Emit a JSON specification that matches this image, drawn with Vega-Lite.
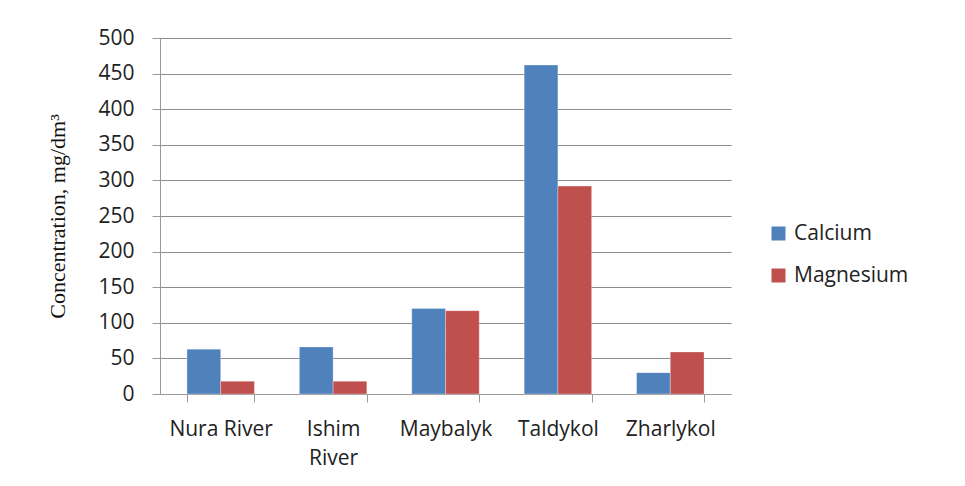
{
  "$schema": "https://vega.github.io/schema/vega-lite/v6.json",
  "width": 571,
  "height": 356,
  "autosize": {"type": "none"},
  "padding": {"left": 160, "top": 38, "right": 234, "bottom": 92},
  "background": "white",
  "data": {
    "values": [
      {"site": "Nura River", "element": "Calcium", "value": 63},
      {"site": "Nura River", "element": "Magnesium", "value": 18},
      {"site": "Ishim River", "element": "Calcium", "value": 66},
      {"site": "Ishim River", "element": "Magnesium", "value": 18},
      {"site": "Maybalyk", "element": "Calcium", "value": 120},
      {"site": "Maybalyk", "element": "Magnesium", "value": 117},
      {"site": "Taldykol", "element": "Calcium", "value": 462},
      {"site": "Taldykol", "element": "Magnesium", "value": 292},
      {"site": "Zharlykol", "element": "Calcium", "value": 30},
      {"site": "Zharlykol", "element": "Magnesium", "value": 59}
    ]
  },
  "mark": {"type": "bar", "stroke": "white", "strokeWidth": 0.5, "strokeOpacity": 0.6},
  "encoding": {
    "x": {
      "field": "site",
      "type": "nominal",
      "sort": ["Nura River", "Ishim River", "Maybalyk", "Taldykol", "Zharlykol"],
      "scale": {"paddingInner": 0.4, "paddingOuter": 0.24},
      "axis": {
        "title": null,
        "labelAngle": 0,
        "labelFont": "Open Sans",
        "labelFontSize": 21,
        "labelColor": "#222",
        "labelLineHeight": 29,
        "labelPadding": 16,
        "labelExpr": "datum.label == 'Ishim River' ? ['Ishim', 'River'] : datum.label",
        "tickBand": "extent",
        "tickSize": 8,
        "tickColor": "#999",
        "domainColor": "#999",
        "grid": false
      }
    },
    "xOffset": {"field": "element", "type": "nominal"},
    "y": {
      "field": "value",
      "type": "quantitative",
      "scale": {"domain": [0, 500], "nice": false},
      "axis": {
        "title": "Concentration, mg/dm³",
        "titleFont": "Liberation Serif",
        "titleFontSize": 22,
        "titleFontWeight": "normal",
        "titleColor": "#111",
        "titlePadding": 28,
        "values": [0, 50, 100, 150, 200, 250, 300, 350, 400, 450, 500],
        "labelFont": "Open Sans",
        "labelFontSize": 21,
        "labelColor": "#222",
        "labelPadding": 18,
        "tickSize": 8,
        "tickColor": "#999",
        "domainColor": "#999",
        "gridColor": "#8c8c8c",
        "gridWidth": 1.2
      }
    },
    "color": {
      "field": "element",
      "type": "nominal",
      "scale": {"domain": ["Calcium", "Magnesium"], "range": ["#4F81BD", "#C0504D"]},
      "legend": {
        "title": null,
        "orient": "none",
        "legendX": 608,
        "legendY": 185,
        "symbolType": "square",
        "symbolSize": 196,
        "symbolStrokeWidth": 0,
        "labelFont": "Open Sans",
        "labelFontSize": 21,
        "labelColor": "#222",
        "labelOffset": 5,
        "rowPadding": 20
      }
    }
  },
  "config": {"view": {"stroke": null}}
}
